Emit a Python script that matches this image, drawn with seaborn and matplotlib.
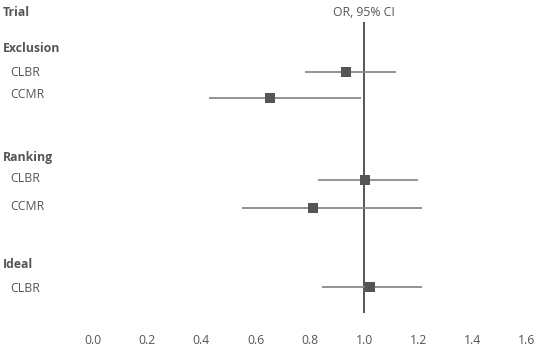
import matplotlib
matplotlib.use("Agg")
import matplotlib.pyplot as plt
import seaborn as sns
import pandas as pd

groups = ["Exclusion", "Exclusion", "Ranking", "Ranking", "Ideal"]
trials = ["CLBR", "CCMR", "CLBR", "CCMR", "CLBR"]
odds_ratio = [0.934, 0.653, 1.004, 0.812, 1.022]
ci_low = [0.782, 0.428, 0.830, 0.550, 0.845]
ci_high = [1.118, 0.989, 1.199, 1.214, 1.214]
xticks = [0.0, 0.2, 0.4, 0.6, 0.8, 1.0, 1.2, 1.4, 1.6]

# layout (pixel rows in a 349 px tall figure)
row_y = [72, 98, 180, 208, 287]
label_y = [72, 95, 179, 207, 288]
group_y = {"Exclusion": 49, "Ranking": 157, "Ideal": 265}

df = pd.DataFrame({"group": groups, "trial": trials, "or": odds_ratio,
                   "lo": ci_low, "hi": ci_high, "y": row_y})

sns.set_theme(style="white")
plt.rcParams["font.family"] = ["Open Sans", "DejaVu Sans"]

W, H = 536, 349
fig = plt.figure(figsize=(W / 100, H / 100), dpi=100)
ax = fig.add_axes([0, 0, 1, 1])
x0, scale = 93, 271.0
ax.set_xlim((0 - x0) / scale, (W - x0) / scale)
ax.set_ylim(H, 0)
ax.axis("off")

txt = "#555555"
ax.vlines(1.0, 22, 313, color="#555555", lw=1.4, zorder=1)
ax.hlines(df["y"], df["lo"], df["hi"], color="#808080", lw=1.2, zorder=2)
sns.scatterplot(data=df, x="or", y="y", marker="s", s=55, color="#555555",
                edgecolor="none", ax=ax, zorder=3, legend=False)
ax.set_xlabel("")
ax.set_ylabel("")

xl = lambda px: (px - x0) / scale
fs = 8.8
ax.text(xl(3), 12, "Trial", fontsize=fs, fontweight="bold", color=txt, va="center")
ax.text(1.0, 12, "OR, 95% CI", fontsize=fs, color=txt, va="center", ha="center")
for g, gy in group_y.items():
    ax.text(xl(3), gy, g, fontsize=fs, fontweight="bold", color=txt, va="center")
for t, ly in zip(trials, label_y):
    ax.text(xl(10), ly, t, fontsize=fs, color=txt, va="center")
for v in xticks:
    ax.text(v, 341, f"{v:.1f}", fontsize=fs, color=txt, va="center", ha="center")

fig.savefig("out.png", dpi=100)
